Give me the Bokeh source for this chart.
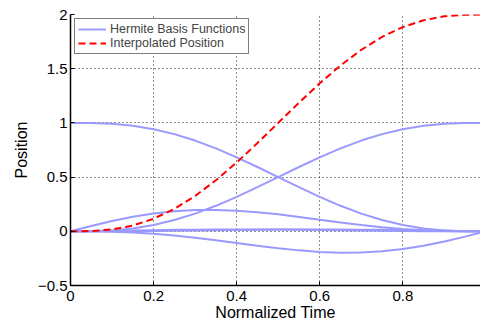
from bokeh.plotting import figure
from bokeh.models import Range1d, FixedTicker, Legend, LegendItem
from bokeh.embed import file_html
from bokeh.resources import INLINE

# Normalized time samples
t = [0.0, 0.05, 0.1, 0.15, 0.2, 0.25, 0.3, 0.35, 0.4, 0.45, 0.5,
     0.55, 0.6, 0.65, 0.7, 0.75, 0.8, 0.85, 0.9, 0.95, 1.0]

# Hermite basis functions
h_start = [1.0, 0.998842, 0.99144, 0.973388, 0.94208, 0.896484, 0.83692, 0.764831, 0.68256, 0.593127, 0.5,
           0.406873, 0.31744, 0.235169, 0.16308, 0.103516, 0.05792, 0.026612, 0.00856, 0.001158, 0.0]
h_end = [0.0, 0.001158, 0.00856, 0.026612, 0.05792, 0.103516, 0.16308, 0.235169, 0.31744, 0.406873, 0.5,
         0.593127, 0.68256, 0.764831, 0.83692, 0.896484, 0.94208, 0.973388, 0.99144, 0.998842, 1.0]
h_vel0 = [0.0, 0.049299, 0.09477, 0.133572, 0.16384, 0.18457, 0.19551, 0.197043, 0.19008, 0.175942, 0.15625,
          0.132815, 0.10752, 0.082213, 0.05859, 0.038086, 0.02176, 0.010184, 0.00333, 0.000457, 0.0]
h_vel1 = [0.0, -0.000457, -0.00333, -0.010184, -0.02176, -0.038086, -0.05859, -0.082213, -0.10752, -0.132815, -0.15625,
          -0.175942, -0.19008, -0.197043, -0.19551, -0.18457, -0.16384, -0.133572, -0.09477, -0.049299, 0.0]
h_acc0 = [0.0, 0.001072, 0.003645, 0.006909, 0.01024, 0.013184, 0.015435, 0.016821, 0.01728, 0.016845, 0.015625,
          0.013783, 0.01152, 0.009057, 0.006615, 0.004395, 0.00256, 0.001219, 0.000405, 0.0000564, 0.0]
h_acc1 = [0.0, 0.0000564, 0.000405, 0.001219, 0.00256, 0.004395, 0.006615, 0.009057, 0.01152, 0.013783, 0.015625,
          0.016845, 0.01728, 0.016821, 0.015435, 0.013184, 0.01024, 0.006909, 0.003645, 0.001072, 0.0]

# Interpolated position
position = [0.0, 0.002316, 0.01712, 0.053224, 0.11584, 0.207032, 0.32616, 0.470338, 0.63488, 0.813746, 1.0,
            1.186254, 1.36512, 1.529662, 1.67384, 1.792968, 1.88416, 1.946776, 1.98288, 1.997684, 2.0]

x_ticks = [0, 0.2, 0.4, 0.6, 0.8]
x_labels = ["0", "0.2", "0.4", "0.6", "0.8"]
y_ticks = [-0.5, 0, 0.5, 1, 1.5, 2]
y_labels = ["\u22120.5", "0", "0.5", "1", "1.5", "2"]

FONT = "Liberation Sans"
BLUE = "#9999ff"

p = figure(width=480, height=326, output_backend="svg", toolbar_location=None,
           x_range=Range1d(0, 0.987), y_range=Range1d(-0.5, 2.0),
           min_border_left=70, min_border_right=0, min_border_top=14, min_border_bottom=41)
p.outline_line_color = None
p.background_fill_color = "white"
p.border_fill_color = "white"

basis = [h_start, h_vel0, h_acc0, h_acc1, h_vel1, h_end]
blue_renderers = []
for h in basis:
    r = p.line(t, h, line_color=BLUE, line_width=2)
    blue_renderers.append(r)
red = p.line(t, position, line_color="#ff0000", line_width=2, line_dash="7 4")

# axes
for ax in (p.xaxis[0], p.yaxis[0]):
    ax.axis_line_color = "black"
    ax.axis_line_width = 1.5
    ax.major_tick_in = 4
    ax.major_tick_out = 0
    ax.major_tick_line_color = "black"
    ax.minor_tick_line_color = None
    ax.major_label_text_font = FONT
    ax.major_label_text_font_size = "15px"
    ax.major_label_text_color = "black"
    ax.axis_label_text_font = FONT
    ax.axis_label_text_font_size = "16px"
    ax.axis_label_text_font_style = "normal"
    ax.axis_label_text_color = "black"

p.xaxis[0].ticker = FixedTicker(ticks=x_ticks)
p.xaxis[0].major_label_overrides = dict(zip(x_ticks, x_labels))
p.xaxis[0].axis_label = "Normalized Time"
p.xaxis[0].major_label_standoff = 5
p.xaxis[0].axis_label_standoff = 0

p.yaxis[0].ticker = FixedTicker(ticks=y_ticks)
p.yaxis[0].major_label_standoff = 3
p.yaxis[0].major_label_overrides = dict(zip(y_ticks, y_labels))
p.yaxis[0].axis_label = "Position"
p.yaxis[0].axis_label_standoff = 5

for g in (p.xgrid[0], p.ygrid[0]):
    g.grid_line_color = "#222222"
    g.grid_line_dash = "1 3"
    g.grid_line_width = 1
p.xgrid[0].ticker = FixedTicker(ticks=x_ticks)
p.ygrid[0].ticker = FixedTicker(ticks=y_ticks)

legend = Legend(items=[LegendItem(label="Hermite Basis Functions", renderers=[blue_renderers[0]]),
                       LegendItem(label="Interpolated Position", renderers=[red])],
                location="top_left", margin=4, padding=3, spacing=0,
                label_text_font=FONT, label_text_font_size="12.5px",
                label_height=14, glyph_height=14, glyph_width=28, label_standoff=4,
                border_line_color="black", border_line_width=1.2,
                background_fill_color="white", background_fill_alpha=1)
p.add_layout(legend)

open("out.html", "w").write(file_html(p, INLINE))
